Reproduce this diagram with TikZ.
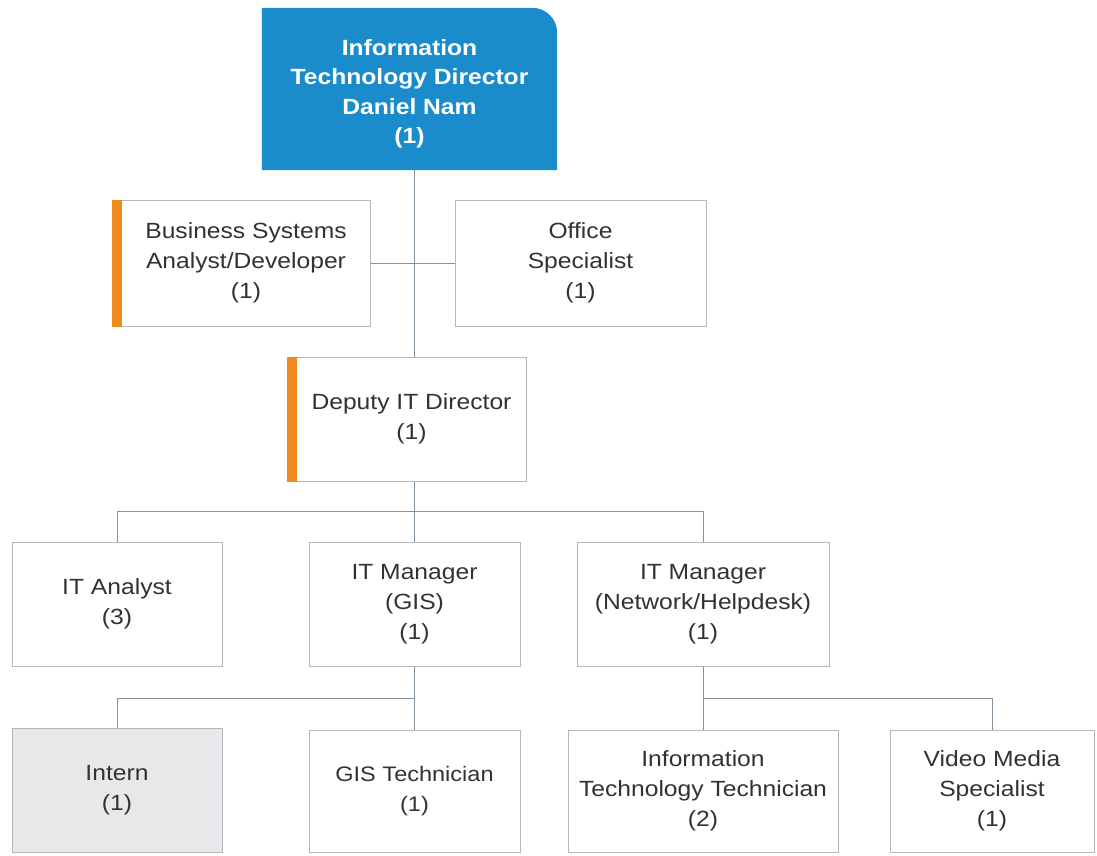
\documentclass[tikz,border=0pt]{standalone}
\usepackage{fontspec}
\setmainfont{Liberation Sans}[FakeStretch=1.12]
\definecolor{topblue}{RGB}{26,140,204}
\definecolor{boxline}{RGB}{180,184,188}
\definecolor{conn}{RGB}{130,145,158}
\definecolor{barorange}{RGB}{240,137,30}
\definecolor{txt}{RGB}{50,50,50}
\definecolor{interngray}{RGB}{230,232,234}
\begin{document}
\begin{tikzpicture}[x=1pt,y=1pt,
  box/.style={draw=boxline,line width=1pt,fill=white,inner sep=0pt,align=center,text=txt,
    font=\fontsize{22}{30}\selectfont},
  conline/.style={draw=conn,line width=1pt}]
\useasboundingbox (0,0) rectangle (1097,-855);
% top box
\node[inner sep=0pt,minimum width=295pt,minimum height=162pt] (top) at (409.5,-89) {};
\fill[topblue] (top.south west) -- (top.north west) -- ([xshift=-25pt]top.north east)
  arc[start angle=90,end angle=0,radius=25pt] -- (top.south east) -- cycle;
\node[align=center,text=white,font=\fontsize{22}{29.5}\selectfont\bfseries] (toptext) at ([yshift=-5pt]top.center)
  {Information\\Technology Director\\Daniel Nam\\(1)};
% bus levels
\coordinate (bus1) at (0,-511);
\coordinate (bus2) at (0,-698);
% boxes
\node[box,minimum width=258pt,minimum height=126pt] (bsa) at (241,-263) {\hspace*{10pt}Business Systems\\\hspace*{10pt}Analyst/Developer\\\hspace*{10pt}(1)};
\node[box,minimum width=251pt,minimum height=126pt] (office) at (580.5,-263) {Office\\Specialist\\(1)};
\node[box,minimum width=239pt,minimum height=124pt] (deputy) at (406.5,-419) {\hspace*{10pt}Deputy IT Director\\\hspace*{10pt}(1)};
\node[box,minimum width=210pt,minimum height=124pt] (analyst) at (117,-604) {IT Analyst\\(3)};
\node[box,minimum width=211pt,minimum height=124pt] (gis) at (414.5,-604) {IT Manager\\(GIS)\\(1)};
\node[box,minimum width=252pt,minimum height=124pt] (net) at (703,-604) {IT Manager\\(Network/Helpdesk)\\(1)};
\node[box,fill=interngray,minimum width=210pt,minimum height=124pt] (intern) at (117,-790) {Intern\\(1)};
\node[box,font=\fontsize{21}{30}\selectfont,minimum width=211pt,minimum height=122pt] (gistech) at (414.5,-791) {GIS Technician\\(1)};
\node[box,minimum width=270pt,minimum height=122pt] (itt) at (703,-791) {Information\\Technology Technician\\(2)};
\node[box,minimum width=204pt,minimum height=122pt] (video) at (992,-791) {Video Media\\Specialist\\(1)};
% orange bars
\fill[barorange] (bsa.north west) rectangle ([xshift=10pt]bsa.south west);
\fill[barorange] (deputy.north west) rectangle ([xshift=10pt]deputy.south west);
% connectors
\draw[conline] (top.south -| gis.north) -- (deputy.north -| gis.north);
\draw[conline] (bsa.east) -- (office.west);
\draw[conline] (deputy.south -| gis.north) -- (bus1 -| gis.north);
\draw[conline] (analyst.north) -- (bus1 -| analyst.north) -- (bus1 -| net.north) -- (net.north);
\draw[conline] (bus1 -| gis.north) -- (gis.north);
\draw[conline] (gis.south) -- (gistech.north);
\draw[conline] (intern.north) -- (bus2 -| intern.north) -- (bus2 -| gis.south);
\draw[conline] (net.south) -- (itt.north);
\draw[conline] (bus2 -| itt.north) -- (bus2 -| video.north) -- (video.north);
\end{tikzpicture}
\end{document}
